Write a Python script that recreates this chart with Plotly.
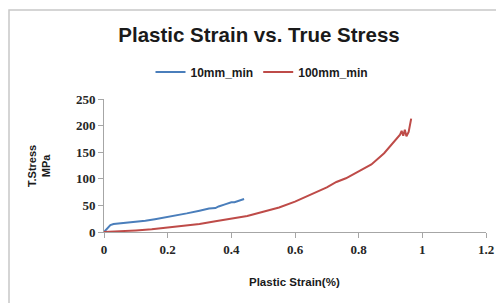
import plotly.graph_objects as go

# Data
x_10 = [0, 0.01, 0.02, 0.03, 0.05, 0.08, 0.1, 0.13, 0.16, 0.2, 0.23, 0.26, 0.3, 0.33, 0.35, 0.36, 0.38, 0.4, 0.41, 0.42, 0.43, 0.44]
y_10 = [0, 6, 13, 15, 16, 18, 19, 21, 24, 28, 31, 35, 40, 44, 45, 48, 52, 56, 56, 58, 61, 62]

x_100 = [0, 0.05, 0.1, 0.15, 0.2, 0.25, 0.3, 0.35, 0.4, 0.45, 0.5, 0.55, 0.6, 0.65, 0.7, 0.73, 0.76, 0.8, 0.84, 0.88, 0.9, 0.92, 0.93, 0.935, 0.94, 0.945, 0.95, 0.957, 0.965]
y_100 = [0, 1, 3, 5, 8, 11, 15, 20, 25, 30, 38, 46, 57, 70, 84, 94, 101, 114, 127, 148, 162, 176, 183, 190, 181, 192, 180, 188, 213]

x_ticks = [0, 0.2, 0.4, 0.6, 0.8, 1, 1.2]
x_ticklabels = ["0", "0.2", "0.4", "0.6", "0.8", "1", "1.2"]
y_ticks = [0, 50, 100, 150, 200, 250]

W, H = 504, 303
O = 8  # page body margin offset
# plot area in page pixels: x 104..486, y 99..232
L = 104 - O
R = W - (486 - O)
T = 99 - O
B = H - (232 - O)

fig = go.Figure()
fig.add_trace(go.Scatter(x=x_10, y=y_10, mode="lines", name="10mm_min",
                         line=dict(color="#4a7ebb", width=2)))
fig.add_trace(go.Scatter(x=x_100, y=y_100, mode="lines", name="100mm_min",
                         line=dict(color="#be4b48", width=2)))

pw = W - L - R
ph = H - T - B
def px(xp):
    return (xp - O - L) / pw
def py(yp):
    return (H - B - (yp - O)) / ph

fig.update_layout(
    width=W, height=H,
    margin=dict(l=L, r=R, t=T, b=B),
    paper_bgcolor="white", plot_bgcolor="white",
    title=dict(text="<b>Plastic Strain vs. True Stress</b>", x=px(259), xref="paper",
               xanchor="center",
               y=1 - (35 - O) / H, yanchor="middle",
               font=dict(family="Liberation Sans", size=20.5, color="#1a1a1a")),
    legend=dict(orientation="h", x=px(262), xanchor="center", y=py(72), yanchor="middle",
                font=dict(family="Liberation Sans", size=12, color="#1a1a1a", weight="bold"),
                bgcolor="rgba(0,0,0,0)", itemwidth=30, tracegroupgap=0),
    xaxis=dict(range=[0, 1.2], tickvals=x_ticks, ticktext=x_ticklabels,
               showgrid=False, zeroline=False, showline=True, linecolor="#a6a6a6",
               ticks="outside", ticklen=5, tickcolor="#a6a6a6",
               tickfont=dict(family="Liberation Serif", size=13, color="#262626", weight="bold"),
               fixedrange=True),
    yaxis=dict(range=[0, 250], tickvals=y_ticks,
               showgrid=False, zeroline=False, showline=True, linecolor="#a6a6a6",
               ticks="outside", ticklen=5, tickcolor="#a6a6a6",
               tickfont=dict(family="Liberation Serif", size=13, color="#262626", weight="bold"),
               fixedrange=True),
    showlegend=True,
)

fig.add_annotation(text="<b>Plastic Strain(%)</b>", xref="paper", yref="paper",
                   x=px(294), y=py(282), showarrow=False, xanchor="center", yanchor="middle",
                   font=dict(family="Liberation Sans", size=11.5, color="#1a1a1a"))
fig.add_annotation(text="<b>T.Stress<br>MPa</b>", xref="paper", yref="paper",
                   x=px(39), y=py(166), showarrow=False, xanchor="center", yanchor="middle",
                   textangle=-90,
                   font=dict(family="Liberation Sans", size=11, color="#1a1a1a"))

fig.add_shape(type="rect", xref="paper", yref="paper",
              x0=px(9), x1=px(530), y0=py(330), y1=py(10),
              line=dict(color="#c8c8c8", width=1.5), layer="below")

fig.write_html("out.html")
